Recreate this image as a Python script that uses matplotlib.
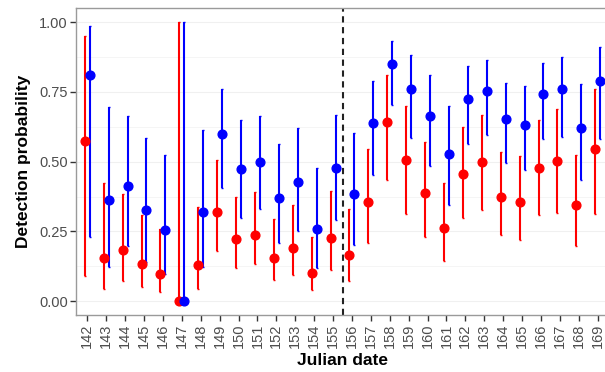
import numpy as np
import matplotlib
matplotlib.use('Agg')
import matplotlib.pyplot as plt

# julian dates on the x axis
dates = list(range(142, 170))

# red series: estimate, upper and lower limits
red_est = [0.575, 0.153, 0.183, 0.133, 0.097, 0.0, 0.131, 0.320, 0.221, 0.237,
           0.155, 0.190, 0.100, 0.225, 0.164, 0.357, 0.643, 0.505, 0.387, 0.262,
           0.456, 0.497, 0.374, 0.355, 0.477, 0.504, 0.343, 0.547]
red_hi = [0.950, 0.424, 0.384, 0.308, 0.259, 1.0, 0.338, 0.505, 0.372, 0.390,
          0.293, 0.345, 0.229, 0.394, 0.329, 0.545, 0.810, 0.699, 0.572, 0.424,
          0.624, 0.667, 0.533, 0.519, 0.648, 0.689, 0.524, 0.761]
red_lo = [0.090, 0.042, 0.073, 0.049, 0.031, 0.0, 0.042, 0.179, 0.118, 0.133,
          0.075, 0.093, 0.038, 0.112, 0.072, 0.207, 0.434, 0.311, 0.229, 0.145,
          0.297, 0.325, 0.238, 0.220, 0.309, 0.317, 0.198, 0.314]

# blue series: estimate, upper and lower limits
blue_est = [0.809, 0.362, 0.413, 0.325, 0.254, 0.0, 0.321, 0.599, 0.472, 0.497,
            0.368, 0.427, 0.260, 0.478, 0.384, 0.637, 0.849, 0.761, 0.665, 0.527,
            0.724, 0.755, 0.652, 0.633, 0.741, 0.761, 0.621, 0.791]
blue_hi = [0.986, 0.696, 0.663, 0.585, 0.523, 1.0, 0.615, 0.762, 0.649, 0.663,
           0.563, 0.619, 0.477, 0.667, 0.602, 0.790, 0.931, 0.881, 0.809, 0.699,
           0.842, 0.864, 0.782, 0.771, 0.854, 0.877, 0.779, 0.912]
blue_lo = [0.230, 0.121, 0.198, 0.141, 0.097, 0.0, 0.123, 0.407, 0.299, 0.329,
           0.207, 0.252, 0.118, 0.292, 0.201, 0.452, 0.704, 0.584, 0.483, 0.345,
           0.563, 0.596, 0.495, 0.470, 0.581, 0.587, 0.434, 0.582]

split_date = 155.5

plt.rcParams['font.family'] = ['Liberation Sans', 'DejaVu Sans']

fig = plt.figure(figsize=(6.05, 3.72), dpi=100)
# panel runs slightly past the right edge of the figure, as in the original
ax = fig.add_axes([76 / 605, 57 / 372, 533 / 605, 306.7 / 372])

x = np.arange(len(dates))
dodge = 0.13
for est, hi, lo, col, off in [(red_est, red_hi, red_lo, '#ff0000', -dodge),
                              (blue_est, blue_hi, blue_lo, '#0000ff', dodge)]:
    est = np.array(est)
    yerr = [est - np.array(lo), np.array(hi) - est]
    ax.errorbar(x + off, est, yerr=yerr, fmt='o', color=col, ms=6.3,
                elinewidth=1.5, capsize=1.0, capthick=1.0, zorder=3)

ax.axvline(dates.index(155) + (split_date - 155), color='#222222', lw=1.5,
           ls=(0, (3, 2.2)), zorder=2)

ax.set_xlim(-0.6, len(dates) - 0.4)
ax.set_ylim(-0.05, 1.05)
ax.set_xticks(x)
ax.set_xticklabels([str(d) for d in dates], rotation=90)
ax.set_yticks([0, 0.25, 0.5, 0.75, 1.0])
ax.set_yticklabels(['0.00', '0.25', '0.50', '0.75', '1.00'])
ax.set_yticks([0.125, 0.375, 0.625, 0.875], minor=True)

ax.grid(axis='y', which='major', color='#f0f0f0', lw=0.8)
ax.grid(axis='y', which='minor', color='#f4f4f4', lw=0.6)
ax.set_axisbelow(True)

for s in ['left', 'top', 'bottom', 'right']:
    ax.spines[s].set_color('#9a9a9a')
    ax.spines[s].set_linewidth(1.0)

ax.tick_params(axis='both', which='major', length=4, width=1, color='#333333',
               labelsize=10.5, labelcolor='#4d4d4d', pad=2)
ax.tick_params(axis='y', which='minor', length=0)

ax.set_xlabel('Julian date', fontsize=12.5, fontweight='bold', labelpad=4)
ax.set_ylabel('Detection probability', fontsize=12.5, fontweight='bold', labelpad=6)

fig.savefig('out.png', dpi=100)
